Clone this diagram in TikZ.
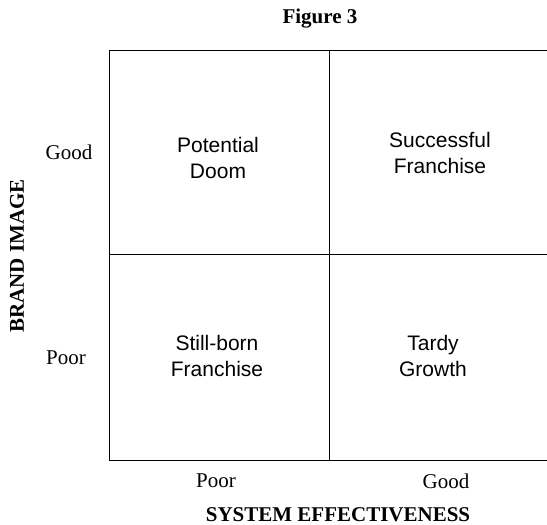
\documentclass[tikz,border=0pt]{standalone}
\usepackage{fontspec}
\setmainfont{Liberation Serif}
\setsansfont{Liberation Sans}
\begin{document}
\begin{tikzpicture}[x=0.5pt, y=-0.5pt,
    every node/.style={font=\fontsize{10.5}{13}\selectfont},
    cell/.style={align=center, font=\sffamily\fontsize{10.5}{13}\selectfont},
    axis/.style={font=\bfseries\fontsize{10.5}{13}\selectfont}]
  \useasboundingbox (0,0) rectangle (547,525);

  % the 2x2 grid
  \draw[line width=0.5pt] (109,50) rectangle (552,460);
  \draw[line width=0.5pt] (329,50) -- (329,460);
  \draw[line width=0.5pt] (109,254) -- (552,254);

  \node[axis] (title) at (320,19) {Figure 3};

  % quadrant labels
  \node[cell] (doom) at (218,158) {Potential\\Doom};
  \node[cell] (success) at (440,153) {Successful\\Franchise};
  \node[cell] (still) at (217,356) {Still-born\\Franchise};
  \node[cell] (tardy) at (433,356) {Tardy\\Growth};

  % axes
  \node (ygood) at (69,152) {Good};
  \node (ypoor) at (66,358) {Poor};
  \node (xpoor) at (216,481) {Poor};
  \node (xgood) at (446,481) {Good};
  \node[axis] (xlabel) at (338,515) {SYSTEM EFFECTIVENESS};
  \node[axis, rotate=90] (ylabel) at (17,256) {BRAND IMAGE};
\end{tikzpicture}
\end{document}
